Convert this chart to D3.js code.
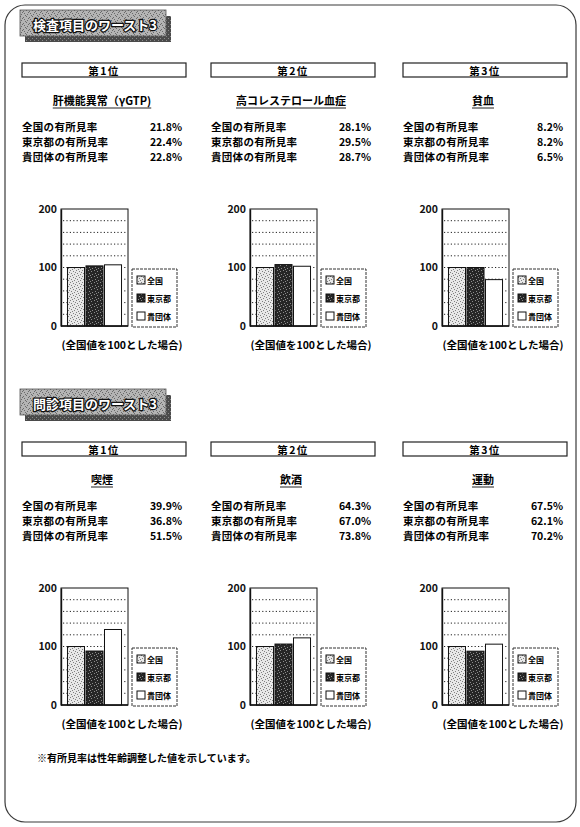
<!DOCTYPE html>
<html lang="ja">
<head>
<meta charset="utf-8">
<script src="https://cdn.jsdelivr.net/npm/d3@7"></script>
<style>
  html, body { margin: 0; padding: 0; background: #fff; }
  svg { display: block; font-family: "Noto Sans CJK JP", "Noto Sans", sans-serif; font-weight: 700; }
</style>
</head>
<body>
<svg id="chart" width="580" height="827"></svg>
<script>
// ---- data ----
const sectionTitles = ["検査項目のワースト3", "問診項目のワースト3"];
const rankLabels = ["第1位", "第2位", "第3位"];
const examItems = ["肝機能異常（γGTP)", "高コレステロール血症", "貧血"];
const interviewItems = ["喫煙", "飲酒", "運動"];
const seriesNames = ["全国", "東京都", "貴団体"];
const rowLabels = ["全国の有所見率", "東京都の有所見率", "貴団体の有所見率"];
// prevalence (%) per item: exam items first, then interview items
const nationalRate = [21.8, 28.1, 8.2, 39.9, 64.3, 67.5];
const tokyoRate    = [22.4, 29.5, 8.2, 36.8, 67.0, 62.1];
const groupRate    = [22.8, 28.7, 6.5, 51.5, 73.8, 70.2];
const yTicks = [0, 100, 200];
const gridValues = [20, 40, 60, 80, 100, 120, 140, 160, 180];
const captionText = "(全国値を100とした場合)";
const footnoteText = "※有所見率は性年齢調整した値を示しています。";

const svg = d3.select("#chart");
const defs = svg.append("defs");

// stipple textures for the bars and the section headers
function stipple(id, base, dot, dots, size) {
  const p = defs.append("pattern").attr("id", id)
    .attr("patternUnits", "userSpaceOnUse").attr("width", size).attr("height", size);
  p.append("rect").attr("width", size).attr("height", size).attr("fill", base);
  dots.forEach(([x, y]) => p.append("rect").attr("x", x).attr("y", y)
    .attr("width", 1).attr("height", 1).attr("fill", dot));
}
stipple("lightDots", "#e8e8e8", "#808080", [[0,0],[3,1],[1,3],[4,4],[2,5],[5,2]], 6);
stipple("darkDots", "#262626", "#8c8c8c", [[0,0],[3,1],[1,3],[4,4],[2,5]], 6);
stipple("headerTex", "#b4b4b4", "#6a6a6a", [[0,0],[3,1],[1,4],[4,3],[2,2],[5,5]], 6);
stipple("shadowTex", "#4a4a4a", "#8a8a8a", [[0,0],[2,2]], 4);
const fills = ["url(#lightDots)", "url(#darkDots)", "#ffffff"];

// page frame
svg.append("rect").attr("x", 5).attr("y", 5).attr("width", 571).attr("height", 817)
  .attr("rx", 20).attr("fill", "none").attr("stroke", "#3a3a3a").attr("stroke-width", 1.2);

const panelX = [22, 211, 403];
const sectionY = [0, 379];
const fmt = d3.format(".1f");

sectionY.forEach((sy, s) => {
  // section header with drop shadow
  const hg = svg.append("g").attr("transform", `translate(20,${10 + sy})`);
  hg.append("rect").attr("x", 5).attr("y", 6).attr("width", 146).attr("height", 26).attr("fill", "url(#shadowTex)");
  hg.append("rect").attr("width", 146).attr("height", 26).attr("fill", "url(#headerTex)")
    .attr("stroke", "#555").attr("stroke-width", 0.8);
  hg.append("text").attr("x", 13).attr("y", 14).attr("dominant-baseline", "central")
    .attr("font-size", 13).attr("fill", "#fff").attr("stroke", "#111").attr("stroke-width", 2.6)
    .attr("paint-order", "stroke").attr("stroke-linejoin", "round").text(sectionTitles[s]);

  const items = s === 0 ? examItems : interviewItems;

  panelX.forEach((px, p) => {
    const idx = s * 3 + p;
    const g = svg.append("g").attr("transform", `translate(${px},${sy})`);

    // rank box
    g.append("rect").attr("x", 0).attr("y", 63).attr("width", 164).attr("height", 14)
      .attr("fill", "#fff").attr("stroke", "#222").attr("stroke-width", 1.2);
    g.append("text").attr("x", 82).attr("y", 70.5).attr("text-anchor", "middle")
      .attr("dominant-baseline", "central").attr("font-size", 10.5)
      .attr("letter-spacing", 1.5).text(rankLabels[p]);

    // item title, underlined
    const t = g.append("text").attr("x", 80).attr("y", 100).attr("text-anchor", "middle")
      .attr("dominant-baseline", "central").attr("font-size", 11).text(items[p]);
    const bb = t.node().getBBox();
    g.append("line").attr("x1", bb.x).attr("x2", bb.x + bb.width)
      .attr("y1", 108).attr("y2", 108).attr("stroke", "#222").attr("stroke-width", 1);

    // prevalence rows
    const rates = [nationalRate[idx], tokyoRate[idx], groupRate[idx]];
    rates.forEach((r, i) => {
      const yy = 126 + i * 15;
      g.append("text").attr("x", 0).attr("y", yy).attr("dominant-baseline", "central")
        .attr("font-size", 10.5).attr("letter-spacing", 0.3).text(rowLabels[i]);
      g.append("text").attr("x", 160).attr("y", yy).attr("dominant-baseline", "central")
        .attr("text-anchor", "end").attr("font-size", 10.5).text(fmt(r) + "%");
    });

    // index chart (national = 100)
    const fx = 39, fw = 67, top = 209, bottom = 326;
    const indexValues = rates.map(r => r / rates[0] * 100);
    const x = d3.scaleBand().domain(seriesNames).range([fx, fx + fw]).paddingInner(0.08).paddingOuter(0.35);
    const y = d3.scaleLinear().domain([0, 200]).range([bottom, top]);

    g.append("rect").attr("x", fx).attr("y", top).attr("width", fw).attr("height", bottom - top)
      .attr("fill", "#fff").attr("stroke", "#111").attr("stroke-width", 1);
    g.selectAll(null).data(gridValues).join("line")
      .attr("x1", fx + 2).attr("x2", fx + fw - 1)
      .attr("y1", d => y(d)).attr("y2", d => y(d))
      .attr("stroke", "#222").attr("stroke-width", 1).attr("stroke-dasharray", "1.2,2.2");
    g.selectAll(null).data(indexValues).join("rect")
      .attr("x", (d, i) => x(seriesNames[i])).attr("width", x.bandwidth())
      .attr("y", d => y(d)).attr("height", d => y(0) - y(d))
      .attr("fill", (d, i) => fills[i]).attr("stroke", "#111").attr("stroke-width", 1);

    const yAxis = g.append("g").attr("transform", `translate(${fx},0)`)
      .call(d3.axisLeft(y).tickValues(yTicks).tickSize(0).tickPadding(4));
    yAxis.select(".domain").attr("stroke", "#111").attr("stroke-width", 1.4);
    yAxis.selectAll("text").attr("font-size", 10.5).attr("font-weight", 700)
      .attr("font-family", "'Noto Sans CJK JP', sans-serif").attr("fill", "#111");
    g.append("line").attr("x1", fx).attr("x2", fx + fw).attr("y1", y(0)).attr("y2", y(0))
      .attr("stroke", "#111").attr("stroke-width", 1.4);

    // legend
    const lx = fx + fw + 4, ly = 269;
    const lg = g.append("g").attr("transform", `translate(${lx},${ly})`);
    lg.append("rect").attr("width", 45).attr("height", 58).attr("fill", "#fff")
      .attr("stroke", "#333").attr("stroke-width", 1).attr("stroke-dasharray", "3,1");
    seriesNames.forEach((n, i) => {
      const iy = 11 + i * 18;
      lg.append("rect").attr("x", 5).attr("y", iy - 4).attr("width", 8).attr("height", 8)
        .attr("fill", fills[i]).attr("stroke", "#111").attr("stroke-width", 1);
      lg.append("text").attr("x", 15).attr("y", iy).attr("dominant-baseline", "central")
        .attr("font-size", 8).text(n);
    });

    // caption
    g.append("text").attr("x", 100).attr("y", 344).attr("text-anchor", "middle")
      .attr("dominant-baseline", "central").attr("font-size", 10.5).text(captionText);
  });
});

// footnote
svg.append("text").attr("x", 37).attr("y", 757).attr("dominant-baseline", "central")
  .attr("font-size", 10).text(footnoteText);
</script>
</body>
</html>
